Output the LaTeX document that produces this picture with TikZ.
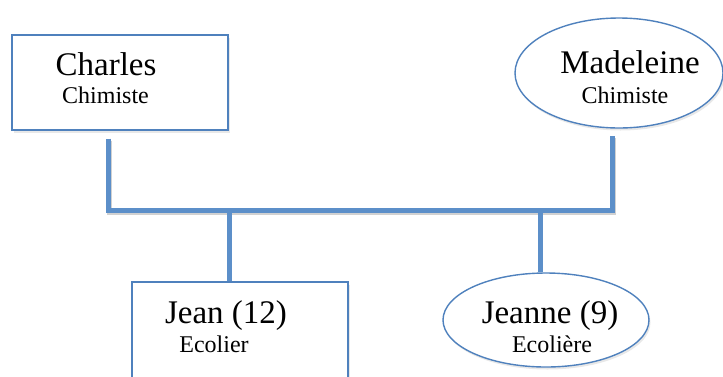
\documentclass[tikz,border=0pt]{standalone}
\usepackage{fontspec}
\setmainfont{Liberation Serif}
\usetikzlibrary{shapes.geometric,shadows}
\definecolor{boxblue}{RGB}{79,129,189}
\definecolor{linkblue}{RGB}{92,143,201}
\tikzset{
  member/.style={draw=boxblue, line width=1.4pt, fill=white,
    drop shadow={opacity=0.18, shadow xshift=1.5pt, shadow yshift=-2.5pt}},
  rectmember/.style={member, rectangle, inner sep=0pt},
  ovalmember/.style={member, ellipse, inner sep=0pt},
  persontext/.style={anchor=base, inner sep=0pt, font=\fontsize{33}{36}\selectfont},
  roletext/.style={anchor=base, inner sep=0pt, font=\fontsize{24}{26}\selectfont},
  famline/.style={draw=linkblue, line width=5pt, line join=miter},
  famshadow/.style={draw=black!18, line width=5pt, line join=miter}
}
\begin{document}
\begin{tikzpicture}[x=1pt, y=-1pt]
  \useasboundingbox (0,0) rectangle (723,376);

  % parents
  \node[rectmember, minimum width=216pt, minimum height=95pt] (charles) at (120,82.5) {};
  \node[ovalmember, minimum width=208pt, minimum height=110pt] (madeleine) at (619,73) {};
  % children
  \node[rectmember, minimum width=216pt, minimum height=110pt] (jean) at (240,337) {};
  \node[ovalmember, minimum width=206pt, minimum height=94pt] (jeanne) at (546,320) {};

  % junction points of the family tree
  \coordinate (jl) at (108,210);
  \coordinate (jr) at (612,210);
  \coordinate (jc1) at (229,210);
  \coordinate (jc2) at (540,210);

  % soft shadow under the links
  \draw[famshadow, transform canvas={xshift=1.5pt, yshift=-2pt}]
    ([yshift=-8pt]charles.south -| jl) -- (jl) -- (jr) -- ([yshift=-7pt]madeleine.south -| jr);

  % links
  \draw[famline] ([yshift=-8pt]charles.south -| jl) -- (jl) -- (jr)
    -- ([yshift=-7pt]madeleine.south -| jr);
  \draw[famline] (jc1) -- (jean.north -| jc1);
  \draw[famline] (jc2) -- (jeanne.north -| jc2);

  % labels
  \node[persontext] (charlesname) at (106,75) {Charles};
  \node[roletext] (charlesrole) at (105.5,103) {Chimiste};
  \node[persontext] (madeleinename) at (630,73) {Madeleine};
  \node[roletext] (madeleinerole) at (625,103) {Chimiste};
  \node[persontext] (jeanname) at (226,323) {Jean (12)};
  \node[roletext] (jeanrole) at (214,352) {Ecolier};
  \node[persontext] (jeannename) at (550,323) {Jeanne (9)};
  \node[roletext] (jeannerole) at (552,352) {Ecolière};
\end{tikzpicture}
\end{document}
